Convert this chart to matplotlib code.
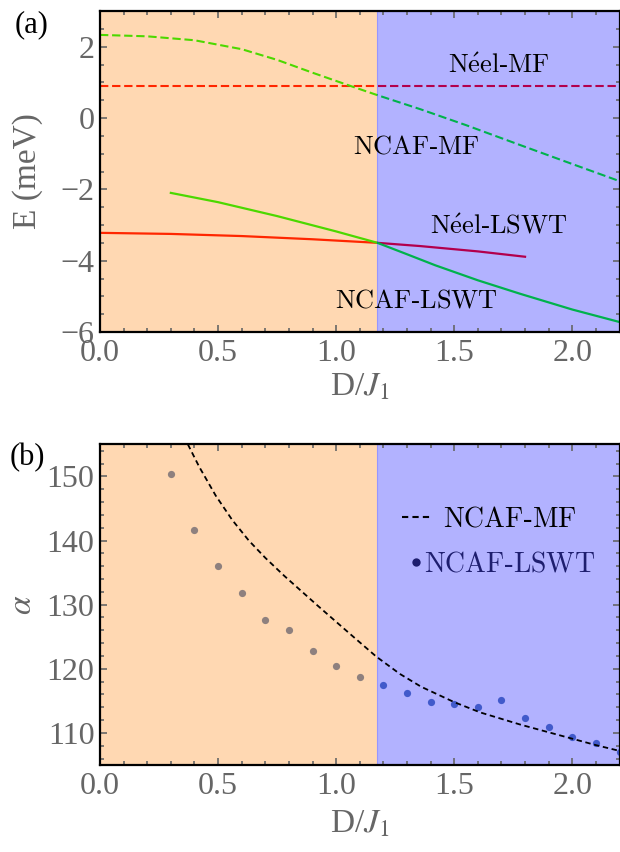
import matplotlib
matplotlib.use('Agg')
import matplotlib.pyplot as plt
from matplotlib.ticker import MultipleLocator
from matplotlib.lines import Line2D
from matplotlib.font_manager import FontProperties

plt.rcParams['font.family'] = ['Liberation Serif', 'DejaVu Serif']
plt.rcParams['mathtext.fontset'] = 'stix'

# ---- data ----
D_c = 1.175          # phase boundary Neel / NCAF
D_max = 2.2

# (a) energies
neel_mf_D = [0.0, 2.2]
neel_mf_E = [0.90, 0.90]
ncaf_mf_D = [0.0, 0.2, 0.4, 0.6, 0.75, 0.9, 1.06, 1.175, 1.355, 1.55, 1.78, 2.0, 2.2]
ncaf_mf_E = [2.33, 2.29, 2.18, 1.93, 1.63, 1.27, 0.90, 0.64, 0.25, -0.20, -0.76, -1.29, -1.77]
neel_lswt_D = [0.0, 0.3, 0.6, 0.9, 1.175, 1.355, 1.6, 1.8]
neel_lswt_E = [-3.22, -3.25, -3.31, -3.40, -3.50, -3.59, -3.74, -3.89]
ncaf_lswt_D = [0.3, 0.5, 0.75, 1.0, 1.175, 1.3, 1.42, 1.6, 1.78, 2.0, 2.2]
ncaf_lswt_E = [-2.10, -2.36, -2.75, -3.18, -3.50, -3.82, -4.13, -4.55, -4.93, -5.37, -5.72]

# (b) canting angle
alpha_mf_D = [0.372, 0.42, 0.49, 0.56, 0.63, 0.70, 0.78, 0.92, 1.06, 1.17, 1.27,
              1.36, 1.50, 1.61, 1.78, 1.90, 2.00, 2.10, 2.20]
alpha_mf = [155.0, 151.5, 147.0, 143.2, 140.0, 137.3, 134.5, 129.9, 125.4, 121.9, 119.2,
            117.2, 114.8, 113.2, 111.3, 110.1, 109.1, 108.1, 107.2]
alpha_lswt_D = [0.3, 0.4, 0.5, 0.6, 0.7, 0.8, 0.9, 1.0, 1.1, 1.2, 1.3, 1.4, 1.5,
                1.6, 1.7, 1.8, 1.9, 2.0, 2.1, 2.2]
alpha_lswt = [150.4, 141.7, 136.1, 131.8, 127.6, 126.0, 122.8, 120.5, 118.7, 117.4,
              116.3, 114.9, 114.5, 114.1, 115.2, 112.3, 110.9, 109.4, 108.5, 107.1]

ORANGE = (1.0, 0.5, 0.0)
BLUE = (0.0, 0.0, 1.0)
DOT = (0.368, 0.507, 0.710)
NAVY = '#1e1e6e'
GRAY = '#666666'
TICKSIZE = 23
LABELSIZE = 24


def shade(ax):
    # drawn over the curves, like the original
    ax.axvspan(0, D_c, color=ORANGE, alpha=0.3, lw=0, zorder=2.2)
    ax.axvspan(D_c, D_max, facecolor=BLUE, edgecolor=BLUE, alpha=0.3, lw=0.8, zorder=2.2)


def style(ax):
    ax.set_axisbelow(False)
    ax.set_xlim(0, D_max)
    ax.xaxis.set_major_locator(MultipleLocator(0.5))
    ax.xaxis.set_minor_locator(MultipleLocator(0.1))
    ax.tick_params(which='both', direction='in', top=True, right=True,
                   color=GRAY, labelcolor=GRAY, labelsize=TICKSIZE, width=1.2)
    ax.tick_params(which='major', length=5)
    ax.tick_params(which='minor', length=3)
    ax.tick_params(axis='x', pad=5)
    ax.tick_params(axis='y', pad=4)
    for s in ax.spines.values():
        s.set_linewidth(1.6)
        s.set_zorder(3)


fig = plt.figure(figsize=(6.2, 8.52), dpi=100)
ax1 = fig.add_axes([100 / 620, (852 - 332) / 852, 519.5 / 620, 321 / 852])
ax2 = fig.add_axes([100 / 620, (852 - 765) / 852, 519.5 / 620, 320.7 / 852])

# ---- (a) ----
dash = (0, (4, 1.8))
ax1.plot(neel_mf_D, neel_mf_E, color='red', lw=1.5, ls=dash)
ax1.plot(ncaf_mf_D, ncaf_mf_E, color=(0, 1, 0), lw=1.5, ls=dash)
ax1.plot(neel_lswt_D, neel_lswt_E, color='red', lw=1.6)
ax1.plot(ncaf_lswt_D, ncaf_lswt_E, color=(0, 1, 0), lw=1.6)
shade(ax1)
style(ax1)
ax1.set_ylim(-6, 3)
ax1.yaxis.set_major_locator(MultipleLocator(2))
ax1.yaxis.set_minor_locator(MultipleLocator(0.5))
ax1.set_ylabel('E (meV)', fontsize=LABELSIZE, color=GRAY)
ax1.yaxis.set_label_coords(-0.11, 0.5)
ax1.set_xlabel(r'D/$J_1$', fontsize=LABELSIZE, color=GRAY, labelpad=3)

lab_kw = dict(fontsize=19, ha='center', va='center', zorder=4, math_fontfamily='cm')
ax1.text(1.69, 1.46, r'$\mathrm{N\acute{e}el}$-$\mathrm{MF}$', **lab_kw)
ax1.text(1.34, -0.82, r'$\mathrm{NCAF}$-$\mathrm{MF}$', **lab_kw)
ax1.text(1.69, -3.05, r'$\mathrm{N\acute{e}el}$-$\mathrm{LSWT}$', **lab_kw)
ax1.text(1.34, -5.14, r'$\mathrm{NCAF}$-$\mathrm{LSWT}$', **lab_kw)

# ---- (b) ----
ax2.plot(alpha_mf_D, alpha_mf, color='black', lw=1.3, ls=(0, (3, 2)), zorder=3)
ax2.plot(alpha_lswt_D, alpha_lswt, ls='none', marker='o', ms=5.2, mew=0, color=DOT)
shade(ax2)
style(ax2)
ax2.set_ylim(105, 155)
ax2.yaxis.set_major_locator(MultipleLocator(10))
ax2.yaxis.set_minor_locator(MultipleLocator(2))
ax2.set_ylabel(r'$\alpha$', fontsize=LABELSIZE, color=GRAY)
ax2.yaxis.set_label_coords(-0.12, 0.5)
ax2.set_xlabel(r'D/$J_1$', fontsize=LABELSIZE, color=GRAY, labelpad=6)

leg_font = FontProperties(family='Liberation Serif', size=20, math_fontfamily='cm')
leg1 = ax2.legend([Line2D([], [], color='black', lw=1.5, ls=(0, (3, 2)))],
                  [r'$\mathrm{NCAF}$-$\mathrm{MF}$'],
                  loc='center left', bbox_to_anchor=(0.581, 0.764), frameon=False,
                  borderpad=0, borderaxespad=0, handlelength=1.0, handletextpad=0.5,
                  prop=leg_font)
ax2.add_artist(leg1)
leg2 = ax2.legend([Line2D([], [], ls='none', marker='o', ms=6, mew=0, color=NAVY)],
                  [r'$\mathrm{NCAF}$-$\mathrm{LSWT}$'],
                  loc='center left', bbox_to_anchor=(0.594, 0.624), frameon=False,
                  borderpad=0, borderaxespad=0, handlelength=0.5, handletextpad=0.05,
                  prop=leg_font)
leg2.get_texts()[0].set_color(NAVY)
leg1.set_zorder(5)
leg2.set_zorder(5)

fig.text(15 / 620, 1 - 25 / 852, '(a)', fontsize=22, va='center', ha='left')
fig.text(10 / 620, 1 - 458 / 852, '(b)', fontsize=22, va='center', ha='left')

fig.savefig('out.png', dpi=100)
